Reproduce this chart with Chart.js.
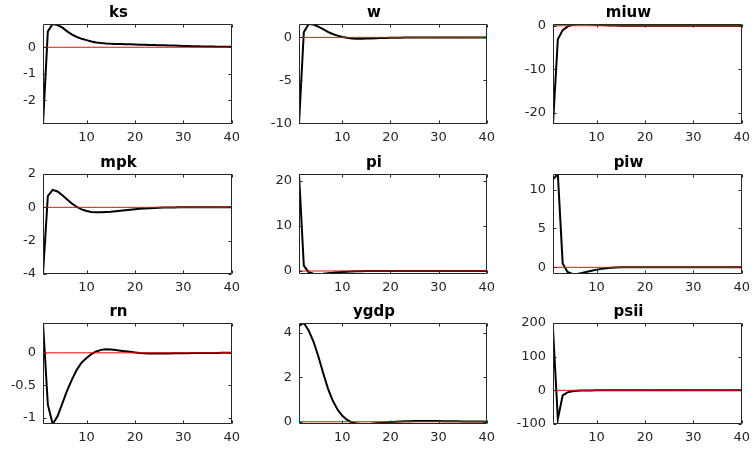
<!DOCTYPE html>
<html>
<head>
<meta charset="utf-8">
<script src="https://cdn.jsdelivr.net/npm/chart.js@4.4.1/dist/chart.umd.min.js"></script>
<style>
  html, body { margin: 0; background: #fff; overflow: hidden; }
  #fig { position: relative; width: 756px; height: 449px; overflow: hidden; }
  #fig canvas { position: absolute; }
</style>
</head>
<body>
<div id="fig"></div>
<script>
// impulse responses, 40 periods
var periods = [1, 2, 3, 4, 5, 6, 7, 8, 9, 10, 11, 12, 13, 14, 15, 16, 17, 18, 19, 20,
               21, 22, 23, 24, 25, 26, 27, 28, 29, 30, 31, 32, 33, 34, 35, 36, 37, 38, 39, 40];
var xTicks = [10, 20, 30, 40];

var ks = [-2.9, 0.6, 0.88, 0.84, 0.74, 0.6, 0.48, 0.39, 0.32, 0.27, 0.22, 0.18, 0.16, 0.145, 0.135, 0.125, 0.12, 0.115, 0.11, 0.105,
          0.1, 0.095, 0.09, 0.085, 0.08, 0.075, 0.07, 0.065, 0.058, 0.05, 0.045, 0.04, 0.036, 0.032, 0.028, 0.025, 0.022, 0.02, 0.018, 0.016];
var w = [-10.1, 0.6, 1.56, 1.5, 1.25, 0.95, 0.65, 0.4, 0.2, 0.05, -0.05, -0.12, -0.15, -0.15, -0.14, -0.12, -0.1, -0.08, -0.06, -0.05,
         -0.04, -0.03, -0.02, -0.015, -0.01, -0.008, -0.006, -0.005, -0.004, -0.003, -0.002, -0.002, -0.001, -0.001, 0, 0, 0, 0, 0, 0];
var miuw = [-22.6, -3.1, -1.0, -0.2, 0.2, 0.35, 0.4, 0.38, 0.3, 0.22, 0.15, 0.1, 0.06, 0.03, 0.01, 0, -0.01, -0.01, -0.01, -0.005,
            0, 0, 0, 0, 0, 0, 0, 0, 0, 0, 0, 0, 0, 0, 0, 0, 0, 0, 0, 0];
var mpk = [-4.0, 0.68, 1.05, 0.95, 0.72, 0.47, 0.22, 0.02, -0.12, -0.22, -0.28, -0.3, -0.3, -0.28, -0.26, -0.23, -0.2, -0.17, -0.14, -0.11,
           -0.09, -0.07, -0.05, -0.035, -0.025, -0.015, -0.01, -0.005, 0, 0, 0, 0, 0, 0, 0, 0, 0, 0, 0, 0];
var pi = [21.5, 1.2, -0.3, -0.6, -0.65, -0.6, -0.5, -0.4, -0.3, -0.22, -0.15, -0.1, -0.07, -0.04, -0.02, -0.01, 0, 0, 0, 0,
          0, 0, 0, 0, 0, 0, 0, 0, 0, 0, 0, 0, 0, 0, 0, 0, 0, 0, 0, 0];
var piw = [11.3, 12.0, 0.5, -0.6, -0.86, -0.85, -0.72, -0.57, -0.43, -0.3, -0.2, -0.12, -0.06, -0.02, 0.01, 0.02, 0.02, 0.015, 0.01, 0.005,
           0, 0, 0, 0, 0, 0, 0, 0, 0, 0, 0, 0, 0, 0, 0, 0, 0, 0, 0, 0];
var rn = [0.46, -0.8, -1.1, -0.98, -0.78, -0.58, -0.41, -0.26, -0.15, -0.08, -0.02, 0.02, 0.045, 0.055, 0.05, 0.042, 0.033, 0.024, 0.015, 0.006,
          -0.002, -0.007, -0.01, -0.012, -0.012, -0.011, -0.01, -0.009, -0.008, -0.007, -0.006, -0.005, -0.004, -0.003, -0.003, -0.002, -0.002, -0.001, -0.001, -0.001];
var ygdp = [4.3, 4.43, 4.1, 3.6, 2.95, 2.2, 1.5, 0.95, 0.55, 0.27, 0.08, -0.03, -0.08, -0.1, -0.1, -0.09, -0.07, -0.05, -0.03, -0.015,
            0, 0.01, 0.02, 0.025, 0.03, 0.033, 0.035, 0.035, 0.033, 0.03, 0.028, 0.025, 0.022, 0.02, 0.017, 0.015, 0.012, 0.01, 0.008, 0.006];
var psii = [183, -85, -15, -6, -3, -1.5, -0.8, -0.4, -0.2, -0.1, 0, 0, 0, 0, 0, 0, 0, 0, 0, 0,
            0, 0, 0, 0, 0, 0, 0, 0, 0, 0, 0, 0, 0, 0, 0, 0, 0, 0, 0, 0];
var zeroLine = periods.map(function () { return 0; });

var names = ['ks', 'w', 'miuw', 'mpk', 'pi', 'piw', 'rn', 'ygdp', 'psii'];
var series = [ks, w, miuw, mpk, pi, piw, rn, ygdp, psii];
var yTicks = [[-2, -1, 0], [-10, -5, 0], [-20, -10, 0],
              [-4, -2, 0, 2], [0, 10, 20], [0, 5, 10],
              [-1, -0.5, 0], [0, 2, 4], [-100, 0, 100, 200]];
var yLimits = [[-2.9, 0.88], [-10.1, 1.56], [-22.6, 0.4],
               [-4, 2], [-0.67, 21.5], [-0.86, 12],
               [-1.1, 0.46], [-0.1, 4.43], [-100, 200]];

// subplot grid (plot area of each axes)
var colLeft = [43, 299, 553];
var colWidth = [193, 192, 193];
var rowTop = [24, 174, 323];
var rowHeight = [100, 100, 101];
var YAXIS_W = 42, XAXIS_H = 26, TITLE_H = 24, PAD_R = 10;

Chart.defaults.font.family = 'DejaVu Sans';
Chart.defaults.color = '#262626';

// matlab style box with inward ticks
var boxPlugin = {
    id: 'matlabBox',
    afterDraw: function (chart, args, opts) {
        var a = chart.chartArea, ctx = chart.ctx;
        var xs = chart.scales.x, ys = chart.scales.y;
        var l = Math.round(a.left) + 0.5, r = Math.round(a.right) - 0.5;
        var t = Math.round(a.top) + 0.5, b = Math.round(a.bottom) - 0.5;
        ctx.save();
        ctx.strokeStyle = '#262626';
        ctx.lineWidth = 1;
        ctx.beginPath();
        ctx.moveTo(l, t); ctx.lineTo(r, t); ctx.lineTo(r, b); ctx.lineTo(l, b); ctx.closePath();
        xTicks.forEach(function (v) {
            var x = Math.round(xs.getPixelForValue(v)) + 0.5;
            ctx.moveTo(x, b); ctx.lineTo(x, b - 3);
            ctx.moveTo(x, t); ctx.lineTo(x, t + 3);
        });
        (opts.yTicks || []).forEach(function (v) {
            var y = Math.round(ys.getPixelForValue(v)) + 0.5;
            ctx.moveTo(l, y); ctx.lineTo(l + 3, y);
            ctx.moveTo(r, y); ctx.lineTo(r - 3, y);
        });
        ctx.stroke();
        ctx.restore();
    }
};

var fig = document.getElementById('fig');

function makePanel(i) {
    var col = i % 3, row = Math.floor(i / 3);
    var wd = colWidth[col] + YAXIS_W + PAD_R;
    var ht = rowHeight[row] + TITLE_H + XAXIS_H;
    var cv = document.createElement('canvas');
    cv.width = wd; cv.height = ht;
    cv.style.width = wd + 'px'; cv.style.height = ht + 'px';
    cv.style.left = (colLeft[col] - YAXIS_W) + 'px';
    cv.style.top = (rowTop[row] - TITLE_H) + 'px';
    fig.appendChild(cv);

    var values = series[i];
    new Chart(cv, {
        type: 'line',
        data: {
            datasets: [{
                data: periods.map(function (t, k) { return { x: t, y: zeroLine[k] }; }),
                borderColor: '#ff0000',
                borderWidth: 1,
                pointRadius: 0
            }, {
                data: periods.map(function (t, k) { return { x: t, y: values[k] }; }),
                borderColor: '#000000',
                borderWidth: 2,
                pointRadius: 0
            }]
        },
        options: {
            responsive: false,
            animation: false,
            devicePixelRatio: 1,
            layout: { padding: { left: 0, top: 0, right: PAD_R, bottom: 0 } },
            plugins: {
                legend: { display: false },
                tooltip: { enabled: false },
                matlabBox: { yTicks: yTicks[i] },
                title: {
                    display: true,
                    text: names[i],
                    color: '#000',
                    font: { size: 15, weight: 'bold' },
                    padding: { top: 4.5, bottom: 1.5 }
                }
            },
            scales: {
                x: {
                    type: 'linear',
                    min: 1,
                    max: 40,
                    afterBuildTicks: function (s) { s.ticks = xTicks.map(function (v) { return { value: v }; }); },
                    afterFit: function (s) { s.height = XAXIS_H; },
                    grid: { display: false, drawTicks: false },
                    border: { display: false },
                    ticks: { padding: 6, maxRotation: 0, autoSkip: false, font: { size: 13 } }
                },
                y: {
                    min: yLimits[i][0],
                    max: yLimits[i][1],
                    afterBuildTicks: function (s) { s.ticks = yTicks[i].map(function (v) { return { value: v }; }); },
                    afterFit: function (s) { s.width = YAXIS_W; },
                    grid: { display: false, drawTicks: false },
                    border: { display: false },
                    ticks: { padding: 7, autoSkip: false, font: { size: 13 },
                             callback: function (v) { return String(v); } }
                }
            }
        },
        plugins: [boxPlugin]
    });
}

for (var i = 0; i < names.length; i++) makePanel(i);
</script>
</body>
</html>
